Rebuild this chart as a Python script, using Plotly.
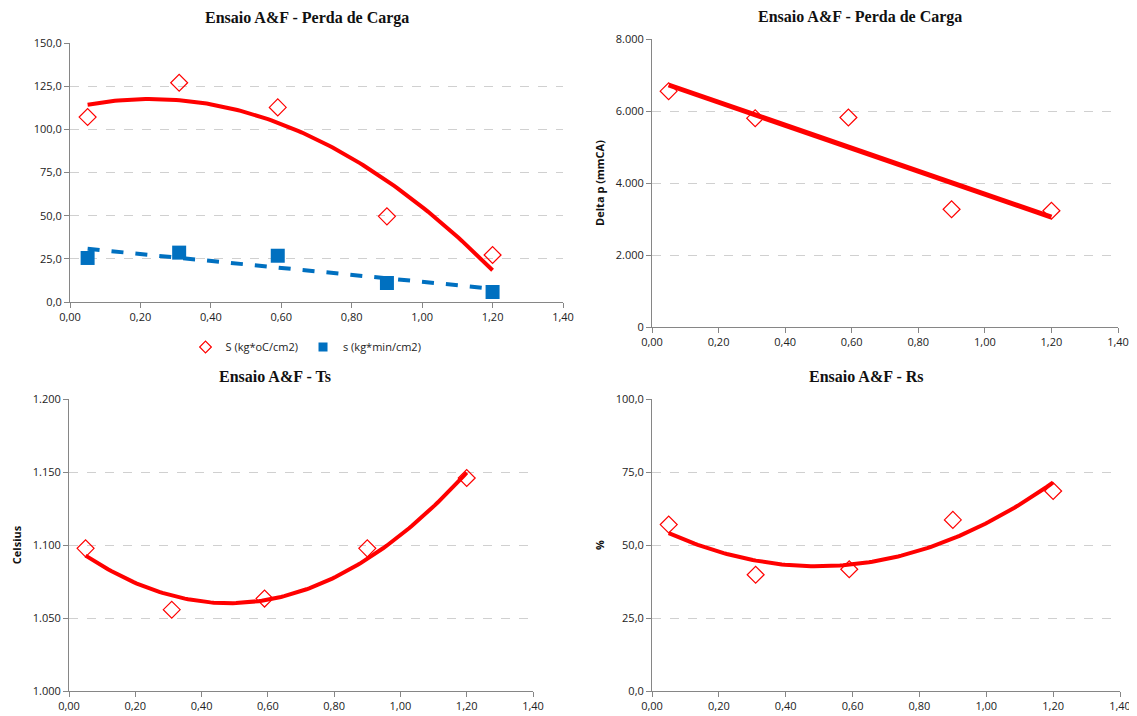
import numpy as np
import plotly.graph_objects as go

# ---- data ----
x_vals = [0.05, 0.31, 0.59, 0.90, 1.20]
S_vals = [107.1, 127.0, 112.7, 49.6, 27.2]      # S (kg*oC/cm2)
s_vals = [25.5, 28.6, 26.8, 11.0, 5.8]          # s (kg*min/cm2)
dp_vals = [6550, 5800, 5820, 3270, 3230]        # Delta p (mmCA)
ts_vals = [1097.7, 1055.7, 1063.3, 1097.7, 1145.9]  # Ts (Celsius)
rs_vals = [57.0, 39.8, 41.7, 58.6, 68.5]        # Rs (%)

titles = ["Ensaio A&F - Perda de Carga", "Ensaio A&F - Perda de Carga",
          "Ensaio A&F - Ts", "Ensaio A&F - Rs"]
legend_names = ["S (kg*oC/cm2)", "s (kg*min/cm2)"]

# page has an 8px body margin; figure fills the rest of the 1137x716 window
OFF = 8
W, H = 1137 - OFF, 716 - OFF
def px_x(p): return (p - OFF) / W
def px_y(p): return 1 - (p - OFF) / H

RED = "#FF0000"
BLUE = "#0070C0"
GRID = "#D0D0D0"
AXC = "#868686"
TICKF = dict(family="Open Sans, Liberation Sans, sans-serif", size=11, color="#222222")

xs = np.array(x_vals)
xf = np.linspace(xs.min(), xs.max(), 120)
def fit(y, deg):
    c = np.polyfit(xs, np.array(y), deg)
    return np.polyval(c, xf)

DIAMOND = dict(symbol="diamond-open", size=13, color=RED, line=dict(width=1.2, color=RED))

fig = go.Figure()

# chart 1
fig.add_trace(go.Scatter(x=xf, y=fit(S_vals, 2), mode="lines", line=dict(color=RED, width=4),
                         showlegend=False, xaxis="x", yaxis="y", hoverinfo="skip"))
fig.add_trace(go.Scatter(x=xf, y=fit(s_vals, 1), mode="lines", line=dict(color=BLUE, width=4, dash="dash"),
                         showlegend=False, xaxis="x", yaxis="y", hoverinfo="skip"))
fig.add_trace(go.Scatter(x=x_vals, y=S_vals, mode="markers", name=legend_names[0], showlegend=False,
                         marker=DIAMOND, xaxis="x", yaxis="y"))
fig.add_trace(go.Scatter(x=x_vals, y=s_vals, mode="markers", name=legend_names[1], showlegend=False,
                         marker=dict(symbol="square", size=14, color=BLUE), xaxis="x", yaxis="y"))
# legend entries (smaller symbols, as in the reference legend)
fig.add_trace(go.Scatter(x=[None], y=[None], mode="markers", name=legend_names[0],
                         marker=dict(symbol="diamond-open", size=9, color=RED, line=dict(width=1.2, color=RED)),
                         xaxis="x", yaxis="y"))
fig.add_trace(go.Scatter(x=[None], y=[None], mode="markers", name=legend_names[1],
                         marker=dict(symbol="square", size=9, color=BLUE), xaxis="x", yaxis="y"))
# chart 2
fig.add_trace(go.Scatter(x=xf, y=fit(dp_vals, 1), mode="lines", line=dict(color=RED, width=5),
                         showlegend=False, xaxis="x2", yaxis="y2", hoverinfo="skip"))
fig.add_trace(go.Scatter(x=x_vals, y=dp_vals, mode="markers", showlegend=False,
                         marker=DIAMOND, xaxis="x2", yaxis="y2"))
# chart 3
fig.add_trace(go.Scatter(x=xf, y=fit(ts_vals, 2), mode="lines", line=dict(color=RED, width=4),
                         showlegend=False, xaxis="x3", yaxis="y3", hoverinfo="skip"))
fig.add_trace(go.Scatter(x=x_vals, y=ts_vals, mode="markers", showlegend=False,
                         marker=DIAMOND, xaxis="x3", yaxis="y3"))
# chart 4
fig.add_trace(go.Scatter(x=xf, y=fit(rs_vals, 2), mode="lines", line=dict(color=RED, width=4),
                         showlegend=False, xaxis="x4", yaxis="y4", hoverinfo="skip"))
fig.add_trace(go.Scatter(x=x_vals, y=rs_vals, mode="markers", showlegend=False,
                         marker=DIAMOND, xaxis="x4", yaxis="y4"))

def xaxis(l, r, anchor):
    return dict(domain=[px_x(l), px_x(r)], range=[0, 1.4], dtick=0.2, tick0=0, tickformat=".2f",
                showgrid=False, showline=True, linecolor=AXC, linewidth=1, ticks="outside",
                ticklen=5, tickcolor=AXC, tickfont=TICKF, zeroline=False, anchor=anchor,
                fixedrange=True, automargin=False)

def yaxis(t, b, rng, dtick, fmt, anchor, title=None):
    d = dict(domain=[px_y(b), px_y(t)], range=rng, dtick=dtick, tick0=rng[0], tickformat=fmt,
             showgrid=True, gridcolor=GRID, griddash="dash", gridwidth=1,
             showline=True, linecolor=AXC, linewidth=1, ticks="outside", ticklen=5, tickcolor=AXC,
             tickfont=TICKF, zeroline=False, anchor=anchor, fixedrange=True, automargin=False)
    if title:
        d["title"] = dict(text=title, font=dict(family="Open Sans, Liberation Sans, sans-serif", size=11,
                                                color="#111111", weight="bold"), standoff=8)
    return d

fig.update_layout(
    width=W, height=H, margin=dict(l=0, r=0, t=0, b=0, autoexpand=False),
    plot_bgcolor="white", paper_bgcolor="white", separators=",.",
    xaxis=xaxis(70, 563, "y"), yaxis=yaxis(43, 302, [0, 150], 25, ".1f", "x"),
    xaxis2=xaxis(652, 1118, "y2"), yaxis2=yaxis(39, 327, [0, 8000], 2000, ",d", "x2", "Delta p (mmCA)"),
    xaxis3=xaxis(69, 533, "y3"), yaxis3=yaxis(399, 691, [1000, 1200], 50, ",d", "x3", "Celsius"),
    xaxis4=xaxis(652, 1120, "y4"), yaxis4=yaxis(399, 691, [0, 100], 25, ".1f", "x4", "%"),
    legend=dict(orientation="h", x=px_x(306), xanchor="center", y=px_y(347), yanchor="middle",
                font=dict(family="Open Sans, Liberation Sans, sans-serif", size=11, color="#222222"),
                itemwidth=30, tracegroupgap=0, bgcolor="rgba(0,0,0,0)"),
    showlegend=True,
)

title_pos = [(307, 18), (860, 17), (275, 376), (866, 376)]
for t, (cx, cy) in zip(titles, title_pos):
    fig.add_annotation(text="<b>" + t.replace("&", "&amp;") + "</b>", x=px_x(cx), y=px_y(cy),
                       xref="paper", yref="paper", showarrow=False, xanchor="center", yanchor="middle",
                       font=dict(family="Liberation Serif, Times New Roman, serif", size=16, color="#111111"))

fig.write_html("out.html")
